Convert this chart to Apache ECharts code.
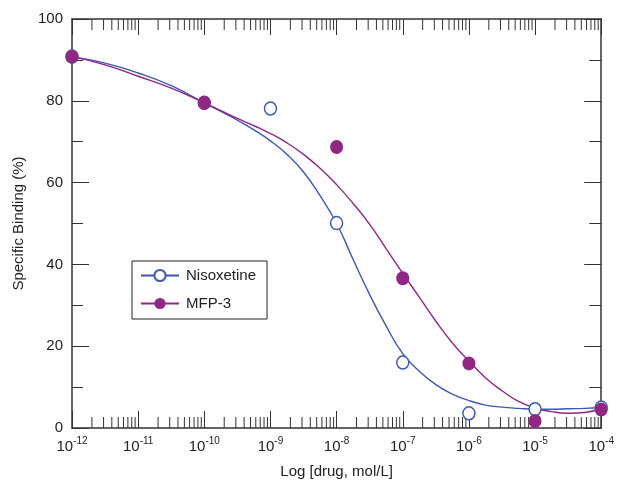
<!DOCTYPE html>
<html lang="en">
<head>
    <meta charset="UTF-8">
    <title>Specific binding</title>
    <style>
        html, body { margin: 0; padding: 0; background: #fff; }
        #chart { width: 617px; height: 484px; }
    </style>
</head>
<body>
<div id="chart"></div>
<script src="https://cdn.jsdelivr.net/npm/echarts@6/dist/echarts.min.js"></script>
<script type="text/javascript">
    // measured points (x as log10 of concentration)
    var nisoxExp = [-12, -10, -9, -8, -7, -6, -5, -4];
    var nisoxVals = [90.8, 79.5, 78.1, 50.1, 16.0, 3.6, 4.6, 5.0];
    var mfpExp = [-12, -10, -8, -7, -6, -5, -4];
    var mfpVals = [90.8, 79.5, 68.7, 36.6, 15.8, 1.7, 4.5];

    // fitted curves (half decades, then quarter decades)
    var curveExp = [-12, -11.5, -11, -10.5, -10, -9.75, -9.5, -9.25, -9, -8.75, -8.5, -8.25, -8, -7.75,
        -7.5, -7.25, -7, -6.75, -6.5, -6.25, -6, -5.75, -5.5, -5.25, -5, -4.75, -4.5, -4.25, -4];
    var nisoxCurve = [90.8, 89.2, 86.8, 83.7, 79.5, 77.4, 75.3, 72.9, 70.2, 66.9, 62.6, 56.8, 50.0, 41.2,
        32.6, 24.9, 18.2, 13.9, 10.6, 8.3, 6.7, 5.6, 5.1, 4.8, 4.6, 4.6, 4.7, 4.8, 5.0];
    var mfpCurve = [90.8, 88.8, 86.0, 83.1, 79.5, 77.6, 75.7, 73.9, 72.0, 69.7, 66.9, 63.5, 59.5, 54.9,
        49.8, 43.8, 37.8, 32.0, 26.1, 20.8, 16.4, 12.3, 9.1, 6.5, 4.9, 4.0, 3.6, 3.8, 4.7];

    var decades = [-12, -11, -10, -9, -8, -7, -6, -5, -4];
    var yTicks = [0, 20, 40, 60, 80, 100];

    var BLUE = '#3d58b3';
    var PURPLE = '#912683';
    var AXIS = '#333';
    var FONT = '"Liberation Sans", Arial, Helvetica, sans-serif';

    function pairs(exps, vals) {
        var res = [];
        for (var i = 0; i < exps.length; i++) {
            res.push([Math.pow(10, exps[i]), vals[i]]);
        }
        return res;
    }

    // minor ticks 2..9 inside each decade
    var minorTicks = [];
    for (var d = 0; d < decades.length - 1; d++) {
        for (var k = 2; k <= 9; k++) {
            minorTicks.push([k * Math.pow(10, decades[d]), 50]);
        }
    }

    var chart = echarts.init(document.getElementById('chart'));

    var xCommon = {
        type: 'log',
        logBase: 10,
        min: Math.pow(10, decades[0]),
        max: Math.pow(10, decades[decades.length - 1]),
        splitNumber: decades.length - 1,
        splitLine: {show: false},
        axisLine: {show: true, onZero: false, lineStyle: {color: AXIS, width: 1.5}},
        axisTick: {show: true, inside: true, length: 17, lineStyle: {color: AXIS, width: 1}}
    };

    var option = {
        backgroundColor: '#fff',
        animation: false,
        textStyle: {fontFamily: FONT},
        grid: {left: 72, right: 11, top: 19, bottom: 53, containLabel: false},
        legend: {
            data: ['Nisoxetine', 'MFP-3'],
            orient: 'vertical',
            left: 132,
            top: 261,
            padding: [7, 11, 8, 8],
            itemGap: 13,
            itemWidth: 38,
            itemHeight: 14,
            borderColor: '#222',
            borderWidth: 1,
            backgroundColor: '#fff',
            selectedMode: false,
            textStyle: {fontSize: 15, color: '#222', fontFamily: FONT, padding: [0, 0, 0, 2]}
        },
        xAxis: [
            Object.assign({}, xCommon, {
                position: 'bottom',
                name: 'Log [drug, mol/L]',
                nameLocation: 'middle',
                nameGap: 36,
                nameTextStyle: {fontSize: 15, color: '#222', fontFamily: FONT},
                axisLabel: {
                    show: true,
                    margin: 8,
                    showMinLabel: true,
                    showMaxLabel: true,
                    formatter: function (v) {
                        var e = Math.round(Math.log(v) / Math.LN10);
                        return '{b|10}{s|' + e + '}';
                    },
                    rich: {
                        b: {fontSize: 15, lineHeight: 22, color: '#222', fontFamily: FONT},
                        s: {fontSize: 10, lineHeight: 10, verticalAlign: 'top', color: '#222', fontFamily: FONT}
                    }
                }
            }),
            Object.assign({}, xCommon, {
                position: 'top',
                axisTick: {show: true, inside: true, length: 16, lineStyle: {color: AXIS, width: 1}},
                axisLabel: {show: false}
            })
        ],
        yAxis: [
            {
                type: 'value',
                min: yTicks[0],
                max: yTicks[yTicks.length - 1],
                interval: 20,
                position: 'left',
                name: 'Specific Binding (%)',
                nameLocation: 'middle',
                nameGap: 46,
                nameTextStyle: {fontSize: 15, color: '#222', fontFamily: FONT},
                splitLine: {show: false},
                axisLine: {show: true, onZero: false, lineStyle: {color: AXIS, width: 1.5}},
                axisTick: {show: true, inside: true, length: 17, lineStyle: {color: AXIS, width: 1}},
                minorTick: {show: true, splitNumber: 2, length: 11, lineStyle: {color: AXIS, width: 1}},
                axisLabel: {fontSize: 15, color: '#222', margin: 9, fontFamily: FONT}
            },
            {
                type: 'value',
                min: yTicks[0],
                max: yTicks[yTicks.length - 1],
                interval: 20,
                position: 'right',
                splitLine: {show: false},
                axisLine: {show: true, onZero: false, lineStyle: {color: AXIS, width: 1.5}},
                axisTick: {show: true, inside: true, length: 17, lineStyle: {color: AXIS, width: 1}},
                minorTick: {show: true, splitNumber: 2, length: 12, lineStyle: {color: AXIS, width: 1}},
                axisLabel: {show: false}
            }
        ],
        series: [
            {
                name: 'minor ticks',
                type: 'custom',
                silent: true,
                data: minorTicks,
                renderItem: function (params, api) {
                    var x = api.coord([api.value(0), 50])[0];
                    var cs = params.coordSys;
                    var top = cs.y, bottom = cs.y + cs.height;
                    return {
                        type: 'group',
                        children: [
                            {type: 'line', shape: {x1: x, y1: bottom, x2: x, y2: bottom - 11}, style: {stroke: AXIS, lineWidth: 1}},
                            {type: 'line', shape: {x1: x, y1: top, x2: x, y2: top + 11}, style: {stroke: AXIS, lineWidth: 1}}
                        ]
                    };
                }
            },
            {
                name: 'Nisoxetine',
                type: 'line',
                data: pairs(curveExp, nisoxCurve),
                smooth: 0.5,
                showSymbol: false,
                symbol: 'emptyCircle',
                color: BLUE,
                lineStyle: {color: BLUE, width: 1.4},
                z: 2
            },
            {
                name: 'MFP-3',
                type: 'line',
                data: pairs(curveExp, mfpCurve),
                smooth: 0.5,
                showSymbol: false,
                symbol: 'circle',
                color: PURPLE,
                lineStyle: {color: PURPLE, width: 1.4},
                z: 2
            },
            {
                name: 'Nisoxetine data',
                type: 'scatter',
                data: pairs(nisoxExp, nisoxVals),
                symbol: 'circle',
                symbolSize: [12, 13],
                itemStyle: {color: '#fff', borderColor: BLUE, borderWidth: 1.5, opacity: 1},
                z: 3
            },
            {
                name: 'MFP-3 data',
                type: 'scatter',
                data: pairs(mfpExp, mfpVals),
                symbol: 'circle',
                symbolSize: [13, 14],
                itemStyle: {color: PURPLE, opacity: 1},
                z: 4
            }
        ]
    };
    chart.setOption(option);
</script>
</body>
</html>
